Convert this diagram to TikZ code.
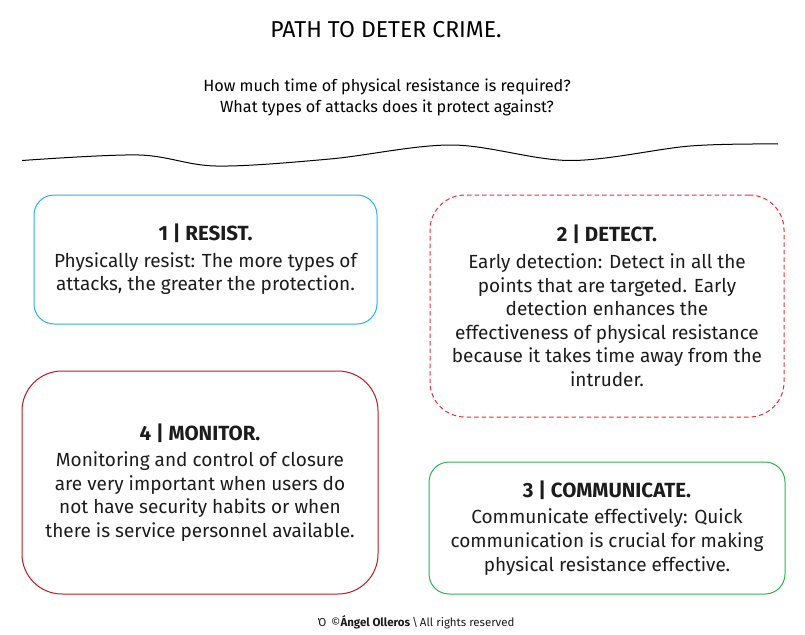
\documentclass[tikz,border=0pt]{standalone}
\usepackage{xcolor}
\usepackage{fontspec}
\setmainfont{Fira Sans}
\usetikzlibrary{positioning}
\definecolor{ResistBlue}{HTML}{29B2E6}
\definecolor{DetectRed}{HTML}{EC2F36}
\definecolor{MonitorRed}{HTML}{C4161C}
\definecolor{TalkGreen}{HTML}{2DB34E}
\definecolor{InkGrey}{HTML}{1C1C1C}
\tikzset{
  stagebox/.style={draw, line width=1pt, align=center, inner sep=0pt,
    text=InkGrey, font=\fontsize{19}{23.6}\selectfont}
}
\newcommand{\stagehead}[1]{\textcolor{InkGrey}{\fontsize{20.5}{23.6}\selectfont\bfseries #1}}

\begin{document}
\begin{tikzpicture}[x=1pt, y=-1pt]
      \useasboundingbox (0,0) rectangle (805,634);
      \node[font=\fontsize{23}{26}\selectfont, text=black] (title) at (386,30) {PATH TO DETER CRIME.};
      \node[align=center, font=\fontsize{16.2}{21}\selectfont, text=black] (question) at (387,97.5)
        {How much time of physical resistance is required?\\What types of attacks does it protect against?};
      \draw[line width=1pt, black] plot[smooth, tension=0.55] coordinates
        {(22,160.5) (139,155) (216,166) (330,159) (452,145) (570,160.5) (690,146) (778,144)};
      \node[stagebox, ResistBlue, rounded corners=20pt, minimum width=343pt, minimum height=129pt] (resist) at (205.5,259.5)
        {\stagehead{1 | RESIST.}\\[3pt]
         \textcolor{InkGrey}{Physically resist: The more types of}\\
         \textcolor{InkGrey}{attacks, the greater the protection.}};
      \node[stagebox, DetectRed, dash pattern=on 4.5pt off 3pt, rounded corners=35pt, minimum width=354pt, minimum height=222pt] (detect) at (607,306)
        {\stagehead{2 | DETECT.}\\[3pt]
         \textcolor{InkGrey}{Early detection: Detect in all the}\\
         \textcolor{InkGrey}{points that are targeted. Early}\\
         \textcolor{InkGrey}{detection enhances the}\\
         \textcolor{InkGrey}{effectiveness of physical resistance}\\
         \textcolor{InkGrey}{because it takes time away from the}\\
         \textcolor{InkGrey}{intruder.}};
      \node[stagebox, MonitorRed, rounded corners=40pt, minimum width=356pt, minimum height=223pt] (monitor) at (200,482.5)
        {\stagehead{4 | MONITOR.}\\[3pt]
         \textcolor{InkGrey}{Monitoring and control of closure}\\
         \textcolor{InkGrey}{are very important when users do}\\
         \textcolor{InkGrey}{not have security habits or when}\\
         \textcolor{InkGrey}{there is service personnel available.}};
      \node[stagebox, TalkGreen, rounded corners=20pt, minimum width=356pt, minimum height=132pt] (communicate) at (607,528)
        {\stagehead{3 | COMMUNICATE.}\\[3pt]
         \textcolor{InkGrey}{Communicate effectively: Quick}\\
         \textcolor{InkGrey}{communication is crucial for making}\\
         \textcolor{InkGrey}{physical resistance effective.}};
      \node[font=\fontsize{11.5}{14}\selectfont, text=InkGrey] (footer) at (416,622)
        {Ό \,©\textbf{Ángel Olleros}\,\textbackslash\,All rights reserved};
    \end{tikzpicture}
\end{document}
